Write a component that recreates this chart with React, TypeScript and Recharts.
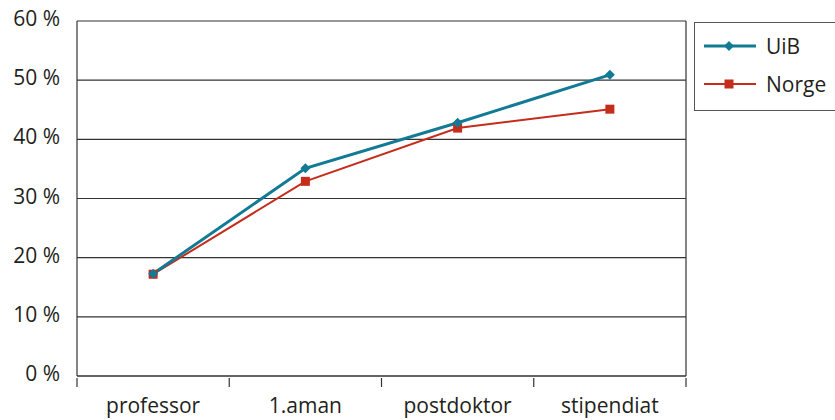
import React from "react";
import { LineChart, Line, XAxis, YAxis, CartesianGrid, ReferenceLine } from "recharts";

const categories = ["professor", "1.aman", "postdoktor", "stipendiat"];
const uib = [17.3, 35.1, 42.8, 50.9];
const norge = [17.2, 32.9, 41.9, 45.1];
const yTicks = [0, 10, 20, 30, 40, 50, 60];
const xTicks = [0, 0.5, 1, 1.5, 2, 2.5, 3, 3.5, 4];

const data = categories.map((c, i) => ({ pos: i + 0.5, name: c, UiB: uib[i], Norge: norge[i] }));

const FONT = "'Open Sans', sans-serif";
const TEAL = "#127a94";
const RED = "#c42c1c";
const AX = "#333";

const YTick = (props: any) => {
  const { x, y, payload } = props;
  return (
    <text x={x} y={y} dy={5} textAnchor="end" fontFamily={FONT} fontSize={21} fill="#231f20">
      {`${payload.value} %`}
    </text>
  );
};

const XTick = (props: any) => {
  const { x, y, payload } = props;
  const v = payload.value;
  if (Number.isInteger(v)) {
    return <line x1={x} y1={y} x2={x} y2={y + 9} stroke={AX} strokeWidth={1.2} />;
  }
  const idx = Math.round(v - 0.5);
  return (
    <text x={x} y={y} dy={35} textAnchor="middle" fontFamily={FONT} fontSize={21} fill="#231f20">
      {categories[idx]}
    </text>
  );
};

const Diamond = (props: any) => {
  const { cx, cy } = props;
  if (cx == null || cy == null) return null;
  const s = 5;
  return <polygon points={`${cx},${cy - s} ${cx + s},${cy} ${cx},${cy + s} ${cx - s},${cy}`} fill={TEAL} />;
};

const Square = (props: any) => {
  const { cx, cy } = props;
  if (cx == null || cy == null) return null;
  const s = 4.5;
  return <rect x={cx - s} y={cy - s} width={2 * s} height={2 * s} fill={RED} />;
};

const LegendBox = () => (
  <div
    style={{
      position: "absolute",
      left: 694,
      top: 22,
      width: 150,
      height: 89,
      border: "1.5px solid #555",
      boxSizing: "border-box",
      background: "#fff",
      fontFamily: FONT,
      fontSize: 21,
      color: "#231f20",
    }}
  >
    {[
      { label: "UiB", color: TEAL, w: 3, marker: "diamond", y: 23 },
      { label: "Norge", color: RED, w: 2, marker: "square", y: 61 },
    ].map((it) => (
      <div key={it.label} style={{ position: "absolute", left: 0, top: it.y - 14, height: 28, width: 150 }}>
        <svg width={60} height={28} style={{ position: "absolute", left: 8, top: 0 }}>
          <line x1={1} y1={14} x2={53} y2={14} stroke={it.color} strokeWidth={it.w} />
          {it.marker === "diamond" ? (
            <polygon points="26,9 31,14 26,19 21,14" fill={it.color} />
          ) : (
            <rect x={21.5} y={9.5} width={9} height={9} fill={it.color} />
          )}
        </svg>
        <span style={{ position: "absolute", left: 71, top: 0, lineHeight: "28px" }}>{it.label}</span>
      </div>
    ))}
  </div>
);

export default function App() {
  return (
    <div style={{ position: "absolute", left: 0, top: 0, width: 835, height: 420, background: "#fff", overflow: "hidden" }}>
      <LineChart width={835} height={420} data={data} margin={{ top: 21, right: 149, bottom: 0, left: 0 }}>
        <CartesianGrid vertical={false} stroke={AX} strokeWidth={1.2} />
        <XAxis
          type="number"
          dataKey="pos"
          domain={[0, 4]}
          ticks={xTicks}
          tick={<XTick />}
          tickLine={false}
          tickSize={0}
          axisLine={{ stroke: AX, strokeWidth: 1.2 }}
          height={44}
          interval={0}
        />
        <YAxis
          type="number"
          domain={[0, 60]}
          ticks={yTicks}
          tick={<YTick />}
          tickLine={false}
          tickSize={0}
          tickMargin={17}
          axisLine={{ stroke: AX, strokeWidth: 1.2 }}
          width={77}
          interval={0}
        />
        <ReferenceLine x={4} stroke={AX} strokeWidth={1.2} />
        <Line
          dataKey="Norge"
          stroke={RED}
          strokeWidth={2}
          dot={<Square />}
          activeDot={false}
          isAnimationActive={false}
        />
        <Line
          dataKey="UiB"
          stroke={TEAL}
          strokeWidth={3}
          dot={<Diamond />}
          activeDot={false}
          isAnimationActive={false}
        />
      </LineChart>
      <LegendBox />
    </div>
  );
}
